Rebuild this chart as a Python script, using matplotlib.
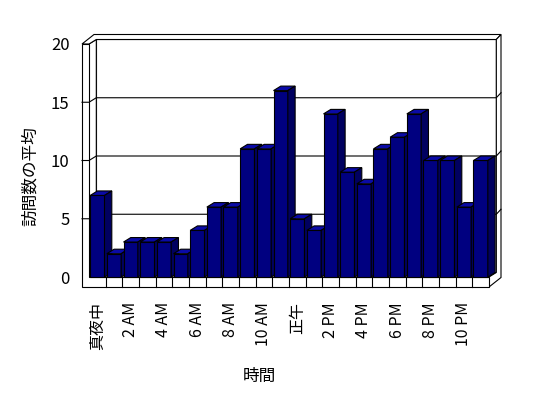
import matplotlib
matplotlib.use("Agg")
import matplotlib.pyplot as plt
from matplotlib.patches import Polygon, Rectangle

# ---- data ----
hours = ["真夜中", "1 AM", "2 AM", "3 AM", "4 AM", "5 AM", "6 AM", "7 AM",
         "8 AM", "9 AM", "10 AM", "11 AM", "正午", "1 PM", "2 PM", "3 PM",
         "4 PM", "5 PM", "6 PM", "7 PM", "8 PM", "9 PM", "10 PM", "11 PM"]
visits = [7, 2, 3, 3, 3, 2, 4, 6, 6, 11, 11, 16, 5, 4, 14, 9, 8, 11, 12, 14,
          10, 10, 6, 10]
y_ticks = [0, 5, 10, 15, 20]

plt.rcParams['font.family'] = ['Noto Sans CJK JP', 'DejaVu Sans']

W, H = 548, 398
fig = plt.figure(figsize=(W / 100, H / 100), dpi=100)
fig.patch.set_facecolor("white")

# front plane of the 3d box, in pixels
left_px, right_px, top_px, bottom_px = 89, 489, 44, 277
ax = fig.add_axes([left_px / W, 1 - bottom_px / H,
                   (right_px - left_px) / W, (bottom_px - top_px) / H])
n = len(hours)
ymax = 20
ax.set_xlim(0, n)
ax.set_ylim(0, ymax)

# pixel -> data units
ppx = (right_px - left_px) / n
ppy = (bottom_px - top_px) / ymax
dx, dy = 7.3 / ppx, 4.5 / ppy          # bar / inner depth
tx, ty = 12.0 / ppx, 9.5 / ppy         # total depth incl. back wall
wall = 7.0 / ppx                       # left wall thickness
floor = 10.0 / ppy                     # floor thickness

edge = dict(edgecolor="black", linewidth=0.8, clip_on=False)

# back wall face + floor top
ax.add_patch(Rectangle((dx, dy), n, ymax, facecolor="white", zorder=1, **edge))
ax.add_patch(Polygon([(0, 0), (n, 0), (n + dx, dy), (dx, dy)],
                     facecolor="white", zorder=1, **edge))
# left wall inner face
ax.add_patch(Polygon([(0, 0), (0, ymax), (dx, ymax + dy), (dx, dy)],
                     facecolor="white", zorder=1, **edge))
# top surface of walls
ax.add_patch(Polygon([(-wall, ymax), (0, ymax), (dx, ymax + dy),
                      (n + dx, ymax + dy), (n + tx, ymax + ty),
                      (-wall + tx, ymax + ty)],
                     facecolor="white", zorder=1, **edge))
# right end (floor side + back wall end)
ax.add_patch(Polygon([(n, -floor), (n + tx, -floor + ty), (n + tx, ymax + ty),
                      (n + dx, ymax + dy), (n + dx, dy), (n, 0)],
                     facecolor="white", zorder=1, **edge))
# gridlines
for v in y_ticks[1:-1]:
    ax.plot([-wall, 0, dx, n + dx, n + tx],
            [v, v, v + dy, v + dy, v + ty],
            color="black", linewidth=0.8, zorder=1.5, clip_on=False)

# left wall front + floor front
ax.add_patch(Polygon([(-wall, -floor), (n, -floor), (n, 0), (0, 0),
                      (0, ymax), (-wall, ymax)],
                     facecolor="white", zorder=1, **edge))
for i in range(1, n):
    ax.plot([i, i], [-floor, 0], color="black", linewidth=0.8,
            zorder=1.5, clip_on=False)

# bars
bw = 0.86
for i, v in enumerate(visits):
    x0 = i + (1 - bw) / 2
    x1 = x0 + bw
    z = 2 + i * 0.01
    ax.add_patch(Rectangle((x0, 0), bw, v, facecolor="#000080", zorder=z, **edge))
    ax.add_patch(Polygon([(x0, v), (x1, v), (x1 + dx, v + dy), (x0 + dx, v + dy)],
                         facecolor="#0a0aa6", zorder=z, **edge))
    ax.add_patch(Polygon([(x1, 0), (x1, v), (x1 + dx, v + dy), (x1 + dx, dy)],
                         facecolor="#000060", zorder=z, **edge))

# axes / ticks
for s in ax.spines.values():
    s.set_visible(False)
ax.set_facecolor("none")
ax.set_yticks(y_ticks)
ax.set_xticks([i + 0.5 for i in range(0, n, 2)])
ax.set_xticklabels(hours[::2], rotation=90)
ax.tick_params(axis="y", length=0, pad=14, labelsize=12)
ax.tick_params(axis="x", length=0, pad=18, labelsize=11.5)

fig.text(30 / W, 1 - 176 / H, "訪問数の平均", rotation=90, fontsize=12,
         ha="center", va="center")
fig.text(259 / W, 1 - 376 / H, "時間", fontsize=12, ha="center", va="center")

fig.savefig("out.png", dpi=100)
